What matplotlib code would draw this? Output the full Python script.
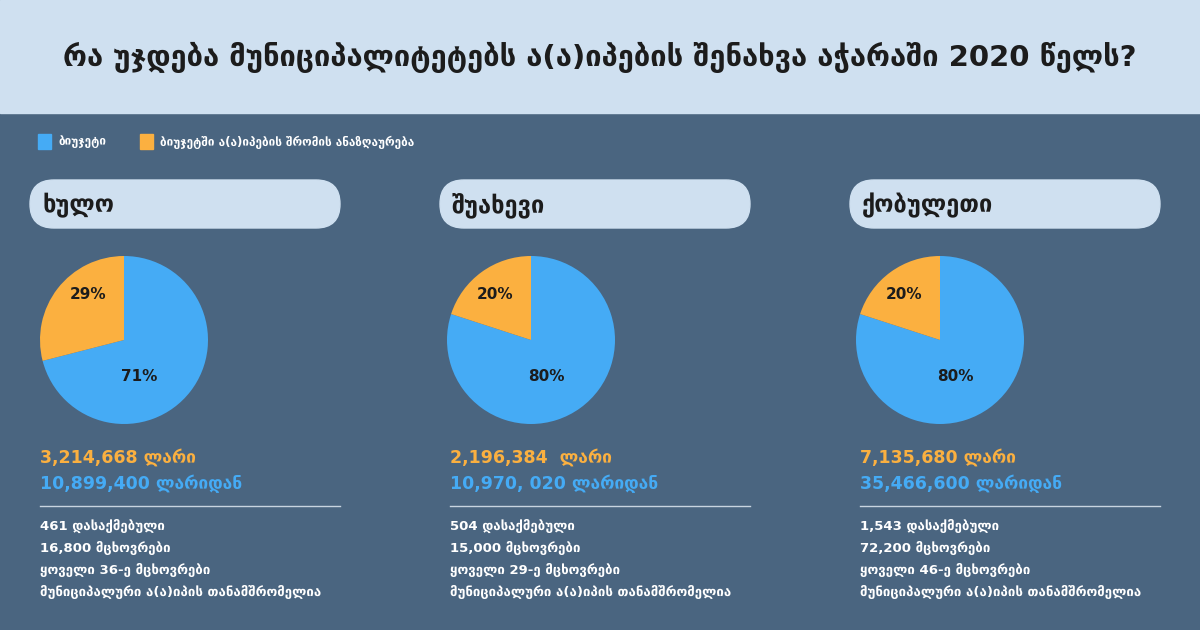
import matplotlib.pyplot as plt
from matplotlib.patches import FancyBboxPatch, Rectangle

plt.rcParams['font.family'] = ['DejaVu Sans']

title = "რა უჯდება მუნიციპალიტეტებს ა(ა)იპების შენახვა აჭარაში 2020 წელს?"
legend_labels = ["ბიუჯეტი", "ბიუჯეტში ა(ა)იპების შრომის ანაზღაურება"]
towns = ["ხულო", "შუახევი", "ქობულეთი"]
budget_share = [71, 80, 80]
salary_share = [29, 20, 20]
salary_text = ["3,214,668 ლარი", "2,196,384  ლარი", "7,135,680 ლარი"]
budget_text = ["10,899,400 ლარიდან", "10,970, 020 ლარიდან", "35,466,600 ლარიდან"]
employed = ["461 დასაქმებული", "504 დასაქმებული", "1,543 დასაქმებული"]
population = ["16,800 მცხოვრები", "15,000 მცხოვრები", "72,200 მცხოვრები"]
every_nth = ["ყოველი 36-ე მცხოვრები", "ყოველი 29-ე მცხოვრები", "ყოველი 46-ე მცხოვრები"]
tail = "მუნიციპალური ა(ა)იპის თანამშრომელია"

BG = "#4a6580"
HEAD = "#cfe0f0"
BLUE = "#45abf5"
ORANGE = "#fbb040"
DARK = "#1c1c1c"

fig = plt.figure(figsize=(12, 6.3), dpi=100)
fig.patch.set_facecolor(BG)
ax = fig.add_axes([0, 0, 1, 1])
ax.set_xlim(0, 1200)
ax.set_ylim(630, 0)
ax.axis("off")

ax.add_patch(Rectangle((0, 0), 1200, 113, color=HEAD))
ax.text(600, 57, title, ha="center", va="center", fontsize=21, fontweight="bold", color=DARK)

# legend
ax.add_patch(Rectangle((38, 134), 13, 15, color=BLUE))
ax.text(58, 142, legend_labels[0], va="center", fontsize=8.5, fontweight="bold", color="white")
ax.add_patch(Rectangle((140, 134), 13, 15, color=ORANGE))
ax.text(160, 142, legend_labels[1], va="center", fontsize=8.5, fontweight="bold", color="white")

xs = [30, 440, 850]
pie_cx = [124, 531, 940]
R = 84
for i in range(3):
    x0 = xs[i]
    ax.add_patch(FancyBboxPatch((x0, 180), 310, 48, boxstyle="round,pad=0,rounding_size=24",
                                color=HEAD))
    ax.text(x0 + 12, 205, towns[i], va="center", fontsize=17, fontweight="bold", color=DARK)

    pax = fig.add_axes([(pie_cx[i] - R) / 1200, 1 - (340 + R) / 630, 2 * R / 1200, 2 * R / 630])
    pax.pie([budget_share[i], salary_share[i]], colors=[BLUE, ORANGE], startangle=90,
            counterclock=False, radius=1)
    pax.set_xlim(-1, 1)
    pax.set_ylim(-1, 1)
    pax.set_aspect("equal")
    pax.text(0.18, -0.44, f"{budget_share[i]}%", ha="center", va="center", fontsize=11,
             fontweight="bold", color=DARK)
    pax.text(-0.43, 0.54, f"{salary_share[i]}%", ha="center", va="center", fontsize=11,
             fontweight="bold", color=DARK)

    ax.text(x0 + 10, 458, salary_text[i], va="center", fontsize=12.5, fontweight="bold", color=ORANGE)
    ax.text(x0 + 10, 484, budget_text[i], va="center", fontsize=12.5, fontweight="bold", color=BLUE)
    ax.plot([x0 + 10, x0 + 310], [506, 506], color="#c8d4e0", lw=1)
    for j, s in enumerate([employed[i], population[i], every_nth[i], tail]):
        ax.text(x0 + 10, 526 + j * 22, s, va="center", fontsize=9.5, fontweight="bold", color="white")

fig.savefig("out.png", dpi=100, facecolor=BG)
